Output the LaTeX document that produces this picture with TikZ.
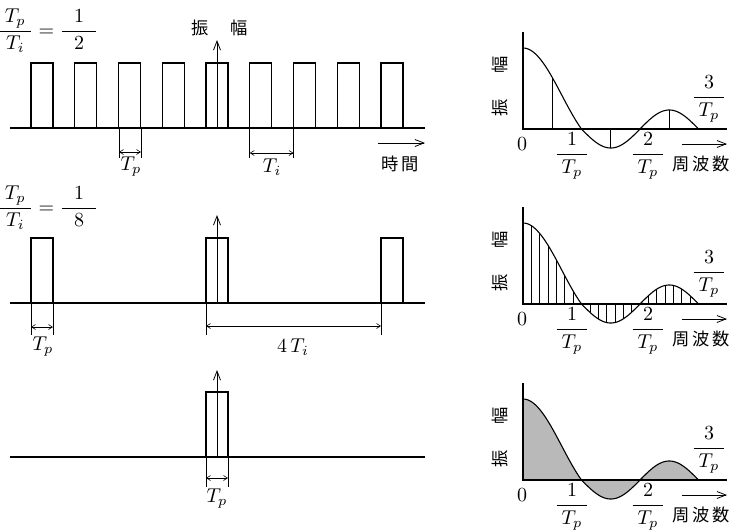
\documentclass[tikz,border=0pt]{standalone}
\usepackage{amsmath}
\usepackage{fontspec}
\newfontfamily\jp{Noto Sans CJK JP}
\usetikzlibrary{arrows.meta}
\pgfmathdeclarefunction{specv}{1}{\pgfmathparse{(#1<=1)*81*sin(180*#1)/(pi*#1) + (#1>1)*19*sin(180*#1)}}
\begin{document}
\begin{tikzpicture}[x=1pt,y=-1pt,
  thickline/.style={line width=1.1pt},
  thinline/.style={line width=0.6pt},
  dimarrow/.style={line width=0.6pt,{Straight Barb[length=4pt,width=5pt]}-{Straight Barb[length=4pt,width=5pt]}},
  axarrow/.style={line width=0.8pt,-{Straight Barb[length=9pt,width=7pt]}},
  lbl/.style={font=\normalsize, inner sep=0pt, scale=2.0},
  jlbl/.style={font=\fontsize{17.28}{20}\selectfont\jp, inner sep=0pt},
  curve/.style={line width=1.1pt},
]
\useasboundingbox (0,0) rectangle (734,531);

% ===== Time domain panel 1 =====
\foreach \k in {0,...,8}{
  \draw[thickline] ({31+43.75*\k},128) -- ++(0,-65) -- ++(22,0) -- ++(0,65);
}
\coordinate (b1l) at (10,128); \coordinate (b1r) at (425,128);
\draw[thickline] (b1l) -- (b1r);
\coordinate (a1b) at (217,128); \coordinate (a1t) at (217,40);
\draw[axarrow] (a1b) -- (a1t);
\node[jlbl] (amp1) at (220,28) {振\hspace{22pt}幅};
\node[lbl] (ratA) at (48,31) {$\dfrac{\hspace{2.5pt}T_p\hspace{2.5pt}}{\hspace{2.5pt}T_i\hspace{2.5pt}}=\dfrac{\hspace{6pt}1\hspace{6pt}}{\hspace{6pt}2\hspace{6pt}}$};
% Tp dimension
\coordinate (e1a) at (119,128); \coordinate (e1b) at (119,158);
\coordinate (e2a) at (141,128); \coordinate (e2b) at (141,158);
\draw[thinline] (e1a) -- (e1b) (e2a) -- (e2b);
\coordinate (d1a) at (119,152); \coordinate (d1b) at (141,152);
\draw[dimarrow] (d1a) -- (d1b);
\node[lbl] (tp1) at (131,167) {$T_p$};
% Ti dimension
\coordinate (e3a) at (249.75,128); \coordinate (e3b) at (249.75,158);
\coordinate (e4a) at (293.5,128); \coordinate (e4b) at (293.5,158);
\draw[thinline] (e3a) -- (e3b) (e4a) -- (e4b);
\coordinate (d2a) at (249.75,153); \coordinate (d2b) at (293.5,153);
\draw[dimarrow] (d2a) -- (d2b);
\node[lbl] (ti1) at (272,167) {$T_i$};
% time arrow
\coordinate (ta1) at (378,143); \coordinate (tb1) at (425,143);
\draw[axarrow] (ta1) -- (tb1);
\node[jlbl] (time1) at (400,163.5) {時\hspace{3pt}間};

% ===== Time domain panel 2 =====
\foreach \xx in {31,206,381}{
  \draw[thickline] (\xx,303) -- ++(0,-65) -- ++(22,0) -- ++(0,65);
}
\coordinate (b2l) at (10,303); \coordinate (b2r) at (425,303);
\draw[thickline] (b2l) -- (b2r);
\coordinate (a2b) at (217,303); \coordinate (a2t) at (217,215);
\draw[axarrow] (a2b) -- (a2t);
\node[lbl] (ratB) at (48,208) {$\dfrac{\hspace{2.5pt}T_p\hspace{2.5pt}}{\hspace{2.5pt}T_i\hspace{2.5pt}}=\dfrac{\hspace{6pt}1\hspace{6pt}}{\hspace{6pt}8\hspace{6pt}}$};
\coordinate (f1a) at (31,303); \coordinate (f1b) at (31,335);
\coordinate (f2a) at (53,303); \coordinate (f2b) at (53,335);
\coordinate (f3a) at (206,303); \coordinate (f3b) at (206,335);
\coordinate (f4a) at (381,303); \coordinate (f4b) at (381,335);
\draw[thinline] (f1a) -- (f1b) (f2a) -- (f2b) (f3a) -- (f3b) (f4a) -- (f4b);
\coordinate (g1a) at (31,327); \coordinate (g1b) at (53,327);
\draw[dimarrow] (g1a) -- (g1b);
\coordinate (g2a) at (206,326); \coordinate (g2b) at (381,326);
\draw[dimarrow] (g2a) -- (g2b);
\node[lbl] (tp2) at (43,347) {$T_p$};
\node[lbl] (ti2) at (293,347) {$4\,T_i$};

% ===== Time domain panel 3 =====
\draw[thickline] (206,457) -- ++(0,-65) -- ++(22,0) -- ++(0,65);
\coordinate (b3l) at (10,457); \coordinate (b3r) at (425,457);
\draw[thickline] (b3l) -- (b3r);
\coordinate (a3b) at (217,457); \coordinate (a3t) at (217,370);
\draw[axarrow] (a3b) -- (a3t);
\coordinate (h1a) at (206,457); \coordinate (h1b) at (206,487);
\coordinate (h2a) at (228,457); \coordinate (h2b) at (228,487);
\draw[thinline] (h1a) -- (h1b) (h2a) -- (h2b);
\coordinate (k1a) at (206,478); \coordinate (k1b) at (228,478);
\draw[dimarrow] (k1a) -- (k1b);
\node[lbl] (tp3) at (217,499) {$T_p$};

% ===== Spectrum panels =====
\fill[gray!55] (523,480) -- (523,399) -- plot[domain=0.01:3,samples=150] ({523+58.5*\x},{480-specv(\x)}) -- (698.5,480) -- cycle;

\foreach \b/\nm in {129/s1,304/s2,480/s3}{
  \coordinate (\nm o) at (523,\b);
  \coordinate (\nm t) at (523,\b-97);
  \coordinate (\nm r) at (727,\b);
  \draw[thickline] (\nm t) -- (\nm o) -- (\nm r);
  \draw[curve] (523,\b-81) -- plot[domain=0.01:3,samples=150] ({523+58.5*\x},{\b-specv(\x)});
  \node[jlbl,rotate=90] (\nm amp) at (500,\b-43) {振\hspace{26pt}幅};
  \node[lbl] (\nm zero) at (522,\b+15) {$0$};
  \node[lbl] (\nm one) at (572,\b+27) {$\dfrac{1}{\hspace{2.5pt}T_p\hspace{2.5pt}}$};
  \node[lbl] (\nm two) at (648,\b+27) {$\dfrac{2}{\hspace{2.5pt}T_p\hspace{2.5pt}}$};
  \node[lbl] (\nm three) at (709,\b-30) {$\dfrac{3}{\hspace{2.5pt}T_p\hspace{2.5pt}}$};
  \coordinate (\nm fa) at (682,\b+15); \coordinate (\nm fb) at (727,\b+15);
  \draw[axarrow] (\nm fa) -- (\nm fb);
  \node[jlbl] (\nm freq) at (701,\b+35) {周\hspace{3pt}波\hspace{3pt}数};
}
\foreach \t in {0.5,1.5,2.5}{
  \draw[thinline] ({523+58.5*\t},129) -- ({523+58.5*\t},{129-specv(\t)});
}
\foreach \k in {1,...,20}{
  \draw[thinline] ({523+58.5*\k/7},304) -- ({523+58.5*\k/7},{304-specv(\k/7)});
}
\end{tikzpicture}
\end{document}
